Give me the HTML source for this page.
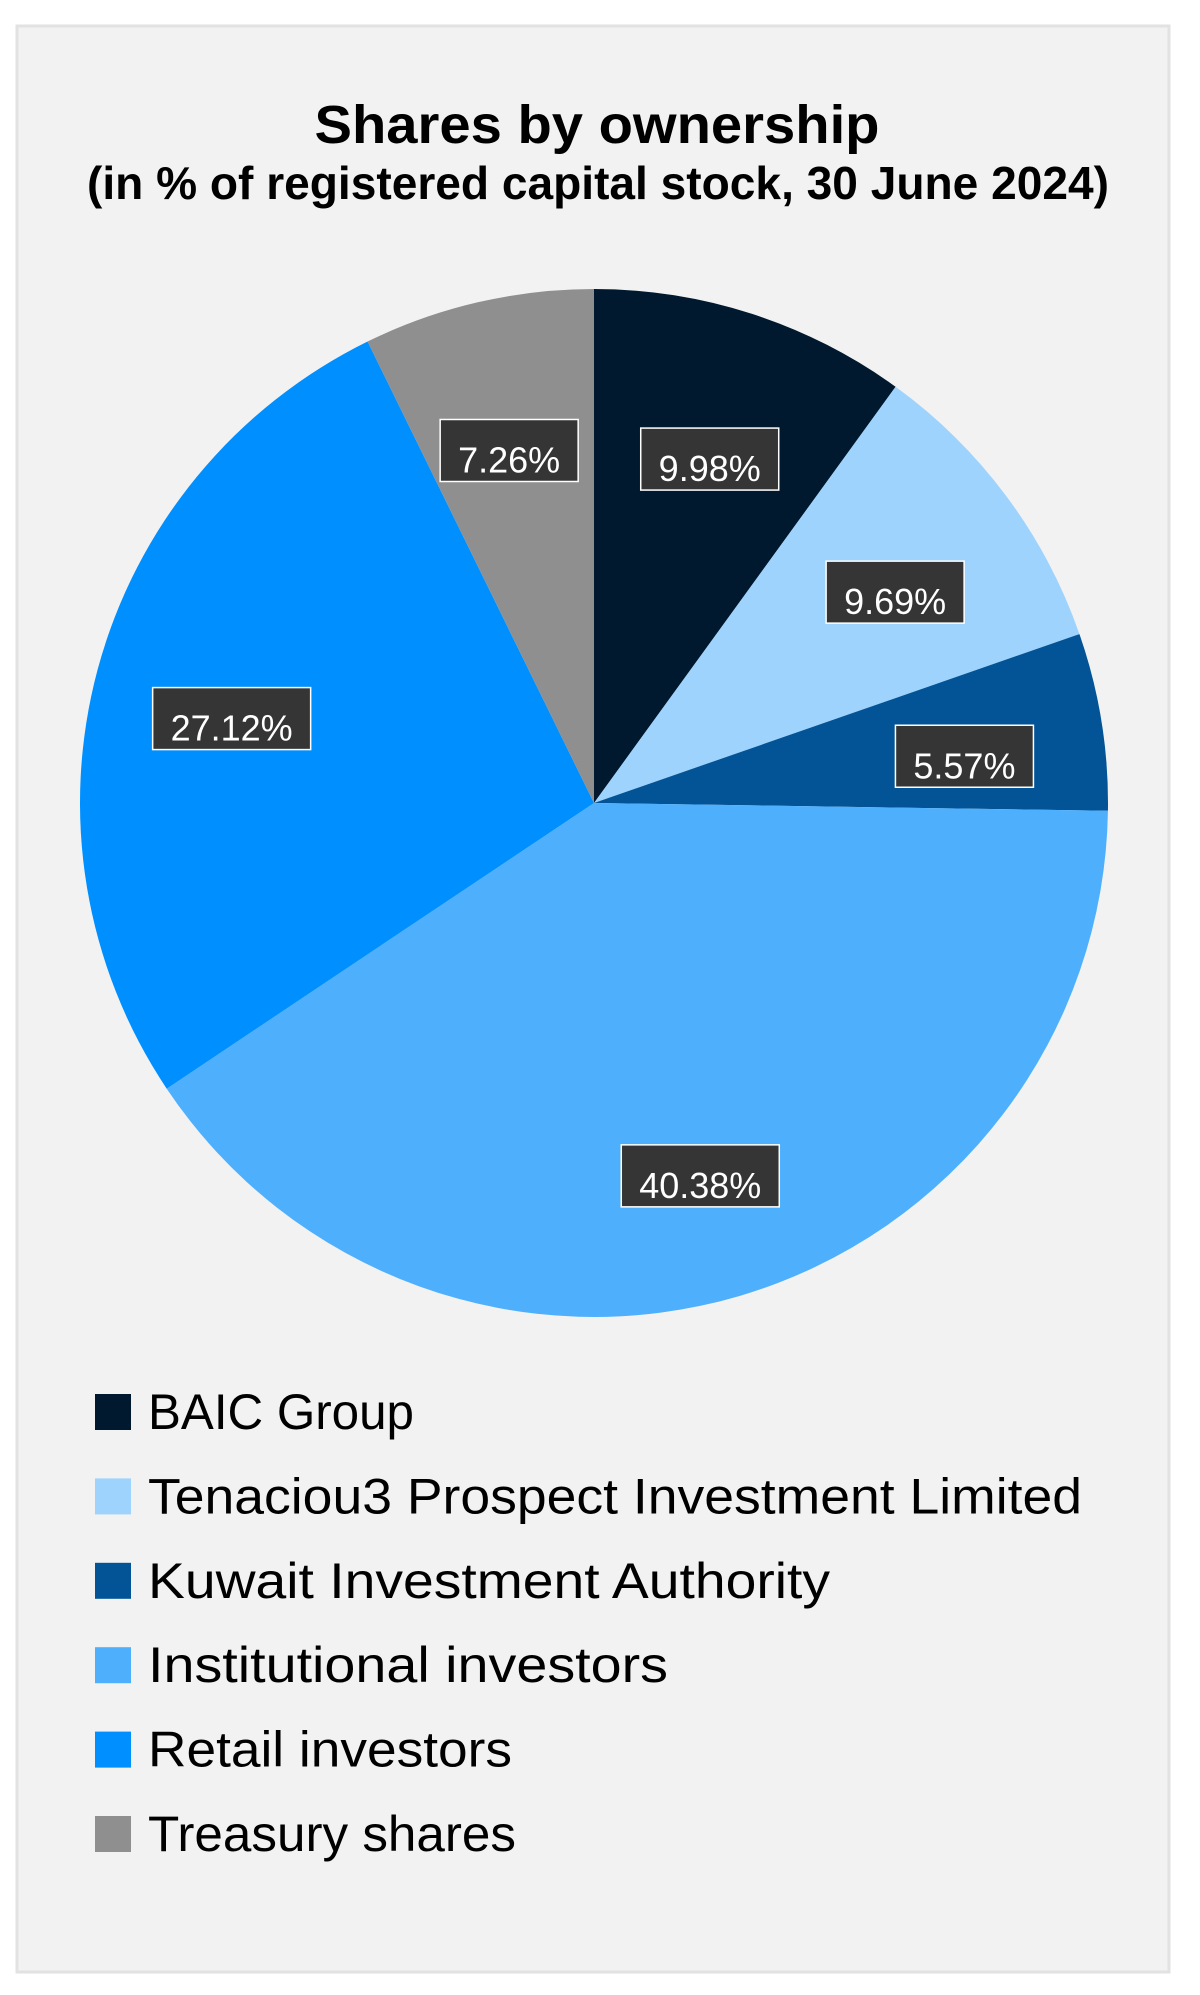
<!DOCTYPE html>
<html><head><meta charset="utf-8">
<style>
html,body{margin:0;padding:0;background:#fff;}
svg{display:block;}
</style></head>
<body>
<svg id="chart" width="1200" height="1995" viewBox="0 0 1200 1995" xmlns="http://www.w3.org/2000/svg">
  <rect x="17" y="26" width="1152" height="1946" fill="#f2f2f2" stroke="#e2e2e2" stroke-width="3"/>
  <text x="597" y="143" text-anchor="middle" font-family="'Liberation Sans Narrow','Liberation Sans',sans-serif" font-weight="bold" font-size="54" textLength="565" lengthAdjust="spacingAndGlyphs" fill="#000">Shares by ownership</text>
  <text x="598" y="199" text-anchor="middle" font-family="'Liberation Sans Narrow','Liberation Sans',sans-serif" font-weight="bold" font-size="46" textLength="1022" lengthAdjust="spacingAndGlyphs" fill="#000">(in % of registered capital stock, 30 June 2024)</text>
  <g id="slices"></g>
  <g id="labels"></g>
  <g id="legend"></g>
</svg>
<script>
const categories = ["BAIC Group","Tenaciou3 Prospect Investment Limited","Kuwait Investment Authority","Institutional investors","Retail investors","Treasury shares"];
const values = [9.98, 9.69, 5.57, 40.38, 27.12, 7.26];
const valueLabels = ["9.98%","9.69%","5.57%","40.38%","27.12%","7.26%"];
const colors = ["#00192e","#9ed3fd","#025497","#4eb0fc","#008ffe","#8f8f8f"];
const legendWidths = [266,934,682,520,364,368];

const NS = "http://www.w3.org/2000/svg";
const cx = 594, cy = 803, r = 514;
const total = values.reduce((a,b)=>a+b,0);
function angleOf(v){ return v/total*2*Math.PI; }
function pt(a, rad){ return [cx + rad*Math.sin(a), cy - rad*Math.cos(a)]; }

const gS = document.getElementById("slices");
const gL = document.getElementById("labels");
const gG = document.getElementById("legend");
let acc = 0;
values.forEach((v,i)=>{
  const a0 = angleOf(acc), a1 = angleOf(acc+v);
  acc += v;
  const p0 = pt(a0,r), p1 = pt(a1,r);
  const large = (a1-a0) > Math.PI ? 1 : 0;
  const path = document.createElementNS(NS,"path");
  path.setAttribute("d",`M${cx},${cy} L${p0[0]},${p0[1]} A${r},${r} 0 ${large} 1 ${p1[0]},${p1[1]} Z`);
  path.setAttribute("fill",colors[i]);
  
  
  gS.appendChild(path);

  const am = (a0+a1)/2;
  const lp = pt(am, r*0.73);
  lp[1] += 13;
  const w = valueLabels[i].length > 5 ? 158 : 138, h = 62;
  const box = document.createElementNS(NS,"rect");
  box.setAttribute("x", lp[0]-w/2); box.setAttribute("y", lp[1]-h/2);
  box.setAttribute("width", w); box.setAttribute("height", h);
  box.setAttribute("fill","#353535"); box.setAttribute("stroke","#ffffff"); box.setAttribute("stroke-width","1.5");
  
  
  gL.appendChild(box);
  const t = document.createElementNS(NS,"text");
  t.setAttribute("x", lp[0]); t.setAttribute("y", lp[1]+22);
  t.setAttribute("text-anchor","middle");
  t.setAttribute("font-family","'Liberation Sans',Arial,sans-serif");
  t.setAttribute("font-size","36"); t.setAttribute("fill","#ffffff");
  t.textContent = valueLabels[i];
  
  
  gL.appendChild(t);

  const ly = 1411 + i*84.4;
  const sw = document.createElementNS(NS,"rect");
  sw.setAttribute("x", 95); sw.setAttribute("y", ly-17);
  sw.setAttribute("width", 36); sw.setAttribute("height", 36);
  sw.setAttribute("fill", colors[i]);
  
  
  gG.appendChild(sw);
  const lt = document.createElementNS(NS,"text");
  lt.setAttribute("x", 148); lt.setAttribute("y", ly+18);
  lt.setAttribute("font-family","'Liberation Sans Narrow','Liberation Sans',sans-serif");
  lt.setAttribute("font-size","50"); lt.setAttribute("fill","#000");
  lt.setAttribute("textLength", legendWidths[i]);
  lt.setAttribute("lengthAdjust","spacingAndGlyphs");
  lt.textContent = categories[i];
  
  
  gG.appendChild(lt);
});
</script>
</body></html>
